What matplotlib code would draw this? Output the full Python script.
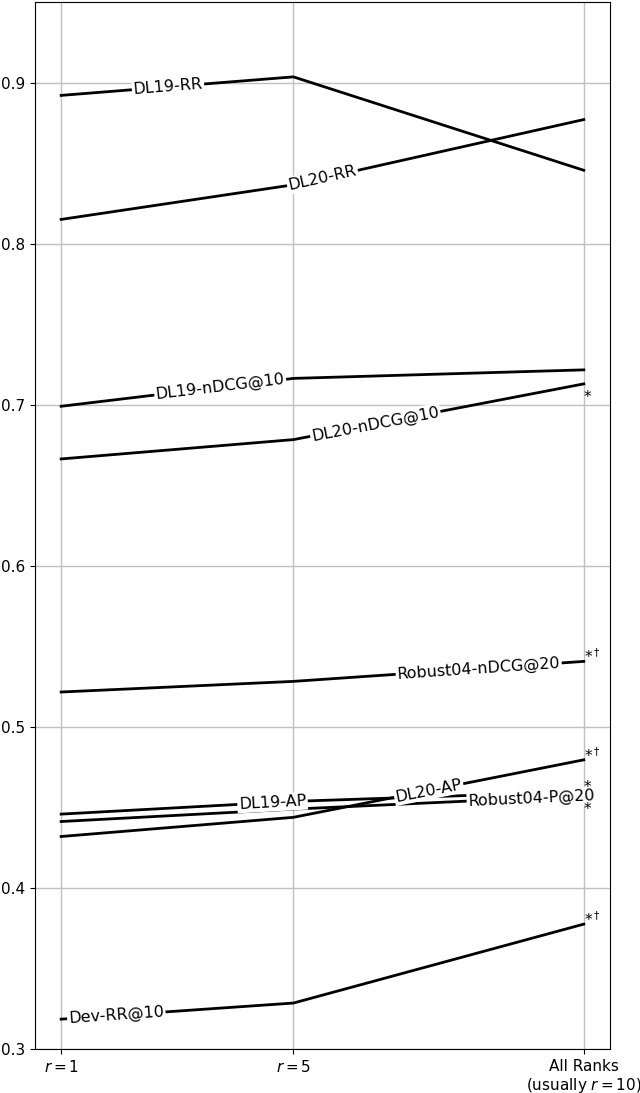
import numpy as np
import matplotlib
matplotlib.use("Agg")
import matplotlib.pyplot as plt

ranks = [1, 5, 10]
tick_labels = ['$r=1$', '$r=5$', 'All Ranks\n(usually $r=10$)']

names = ['DL19-RR', 'DL20-RR', 'DL19-nDCG@10', 'DL20-nDCG@10',
         'Robust04-nDCG@20', 'DL19-AP', 'DL20-AP', 'Robust04-P@20', 'Dev-RR@10']
dl19_rr = [0.892, 0.9035, 0.8455]
dl20_rr = [0.815, 0.8365, 0.877]
dl19_ndcg = [0.699, 0.7163, 0.7216]
dl20_ndcg = [0.6663, 0.6783, 0.7129]
rob_ndcg = [0.5216, 0.5282, 0.5406]
dl19_ap = [0.4458, 0.4537, 0.4598]
dl20_ap = [0.4319, 0.4438, 0.4795]
rob_p20 = [0.4412, 0.4489, 0.4572]
dev_rr = [0.3185, 0.3285, 0.3775]
series = [dl19_rr, dl20_rr, dl19_ndcg, dl20_ndcg, rob_ndcg, dl19_ap, dl20_ap, rob_p20, dev_rr]

# where each inline label sits along x
label_x = [2.84, 5.5, 3.74, 6.41, 8.19, 4.64, 7.33, 9.1, 1.95]
# significance marks at the last point
marks = ['', '', '', '*', '*$^\\dagger$', '*', '*$^\\dagger$', '*', '*$^\\dagger$']
mark_below = [False, False, False, True, False, False, False, True, False]

fig = plt.figure(figsize=(6.4, 10.93), dpi=100)
ax = fig.add_axes([0.0547, 0.0403, 0.953 - 0.0547, 0.9982 - 0.0403])

for vals in series:
    ax.plot(ranks, vals, color='black', linewidth=2)

ax.set_xlim(0.55, 10.45)
ax.set_ylim(0.3, 0.95)
ax.set_xticks(ranks)
ax.set_xticklabels(tick_labels, fontsize=11)
ax.set_yticks([0.3, 0.4, 0.5, 0.6, 0.7, 0.8, 0.9])
ax.tick_params(axis='y', labelsize=11)
ax.grid(True, color='#c0c0c0', linewidth=1)
ax.set_axisbelow(True)

# inline labels rotated along the line
for name, vals, xv in zip(names, series, label_x):
    i = np.searchsorted(ranks, xv) - 1
    i = min(max(i, 0), len(ranks) - 2)
    x0, x1 = ranks[i], ranks[i + 1]
    y0, y1 = vals[i], vals[i + 1]
    yv = y0 + (y1 - y0) * (xv - x0) / (x1 - x0)
    p0 = ax.transData.transform((x0, y0))
    p1 = ax.transData.transform((x1, y1))
    ang = np.degrees(np.arctan2(p1[1] - p0[1], p1[0] - p0[0]))
    ax.text(xv, yv, name, fontsize=11.5, rotation=ang, rotation_mode='anchor',
            ha='center', va='center', zorder=5,
            bbox=dict(facecolor='white', edgecolor='none', pad=1))

for vals, m, below in zip(series, marks, mark_below):
    if not m:
        continue
    dy = -13 if below else 0
    ax.annotate(m, (ranks[-1], vals[-1]), xytext=(0, dy), textcoords='offset points',
                ha='left', va='baseline', fontsize=11, zorder=6)

fig.savefig('out.png', dpi=100)
